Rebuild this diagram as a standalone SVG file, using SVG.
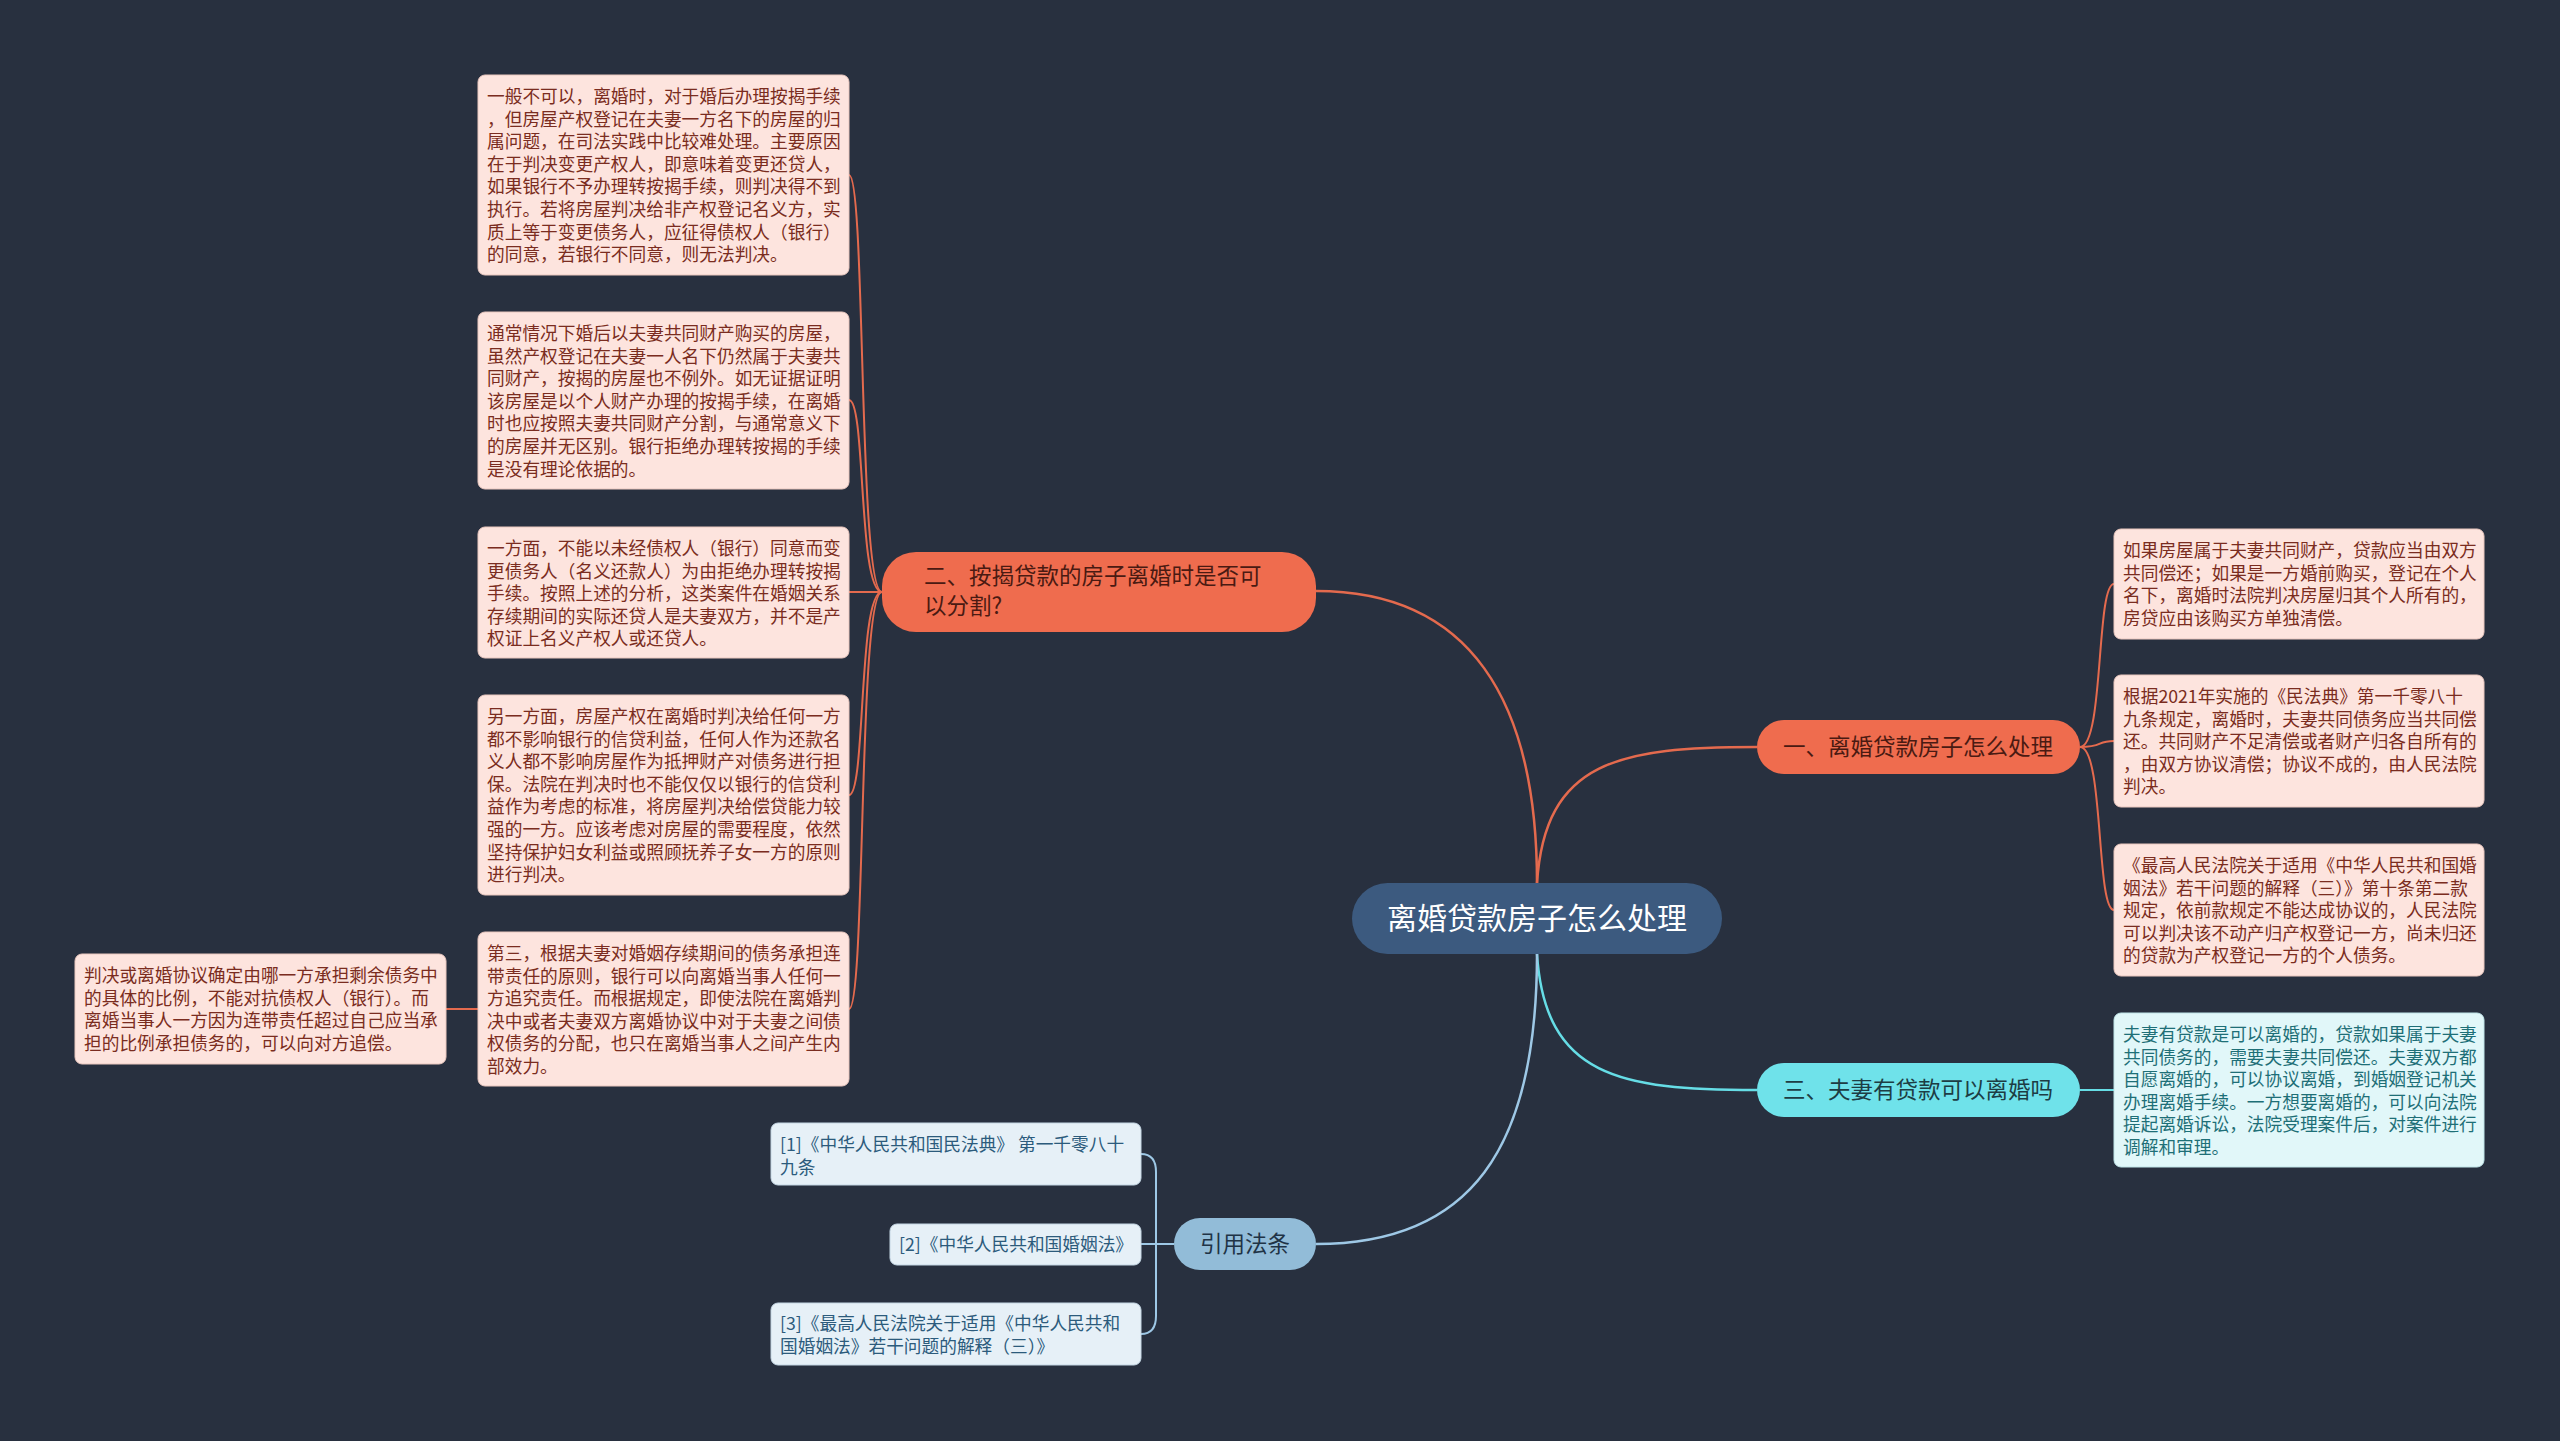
<svg xmlns="http://www.w3.org/2000/svg" width="2560" height="1441" viewBox="0 0 2560 1441">
<style>
text{font-family:"Noto Sans CJK SC","Noto Sans",sans-serif}
.bx{fill:#fde4de;stroke:#e9c7bf;stroke-width:1}
.bt{font-size:17.7px;fill:#7a2c20}
.cx{fill:#e1f7f9;stroke:#bfe4e8;stroke-width:1}
.ct{font-size:17.7px;fill:#1e6f77}
.rx{fill:#e6f0f7;stroke:#c4d6e4;stroke-width:1}
.rt{font-size:17.7px;fill:#2c5b7c}
.co{fill:none;stroke:#e46a4e;stroke-width:2.5}
.cy{fill:none;stroke:#66dde6;stroke-width:2.5}
.lb{fill:none;stroke:#9ec8e6;stroke-width:2.5}
.sub{stroke-width:2}
</style>
<rect width="2560" height="1441" fill="#28303f"/>
<g id="connectors">
<path class="co" d="M1537 883 C1537 700 1470 591 1316 591"/>
<path class="co" d="M1537 883 C1545 760 1620 747 1757 747"/>
<path class="cy" d="M1537 954 C1545 1077 1620 1090 1757 1090"/>
<path class="lb" d="M1537 954 C1537 1150 1470 1244 1316 1244"/>
<path class="co sub" d="M882 592 C858 592 866 175 849 175"/>
<path class="co sub" d="M882 592 C858 592 866 400 849 400"/>
<path class="co sub" d="M882 592 L849 592"/>
<path class="co sub" d="M882 592 C858 592 866 795 849 795"/>
<path class="co sub" d="M882 592 C858 592 866 1009 849 1009"/>
<path class="co sub" d="M478 1009 L446 1009"/>
<path class="co sub" d="M2080 747 C2104 747 2096 584 2114 584"/>
<path class="co sub" d="M2080 747 C2104 747 2096 741 2114 741"/>
<path class="co sub" d="M2080 747 C2104 747 2096 910 2114 910"/>
<path class="cy sub" d="M2080 1090 L2114 1090"/>
<path class="lb sub" d="M1141 1154 Q1156 1154 1156 1172 L1156 1316 Q1156 1334 1141 1334"/>
<path class="lb sub" d="M1141 1244 L1174 1244"/>
</g>
<g id="center">
<rect x="1352" y="883" width="370" height="71" rx="35.5" fill="#3c5a7f"/>
<text x="1537" y="929" font-size="30" fill="#ffffff" text-anchor="middle">离婚贷款房子怎么处理</text>
</g>
<g id="branch2">
<rect x="882" y="552" width="434" height="80" rx="34" fill="#ef6c4e"/>
<text x="924" y="584" font-size="22.5" fill="#4a1a12">二、按揭贷款的房子离婚时是否可</text>
<text x="924" y="614" font-size="22.5" fill="#4a1a12">以分割?</text>
</g>
<g id="branch1">
<rect x="1757" y="720" width="323" height="54" rx="27" fill="#ef6c4e"/>
<text x="1918" y="755" font-size="22.5" fill="#4a1a12" text-anchor="middle">一、离婚贷款房子怎么处理</text>
</g>
<g id="branch3">
<rect x="1757" y="1063" width="323" height="54" rx="27" fill="#6fe2ea"/>
<text x="1918" y="1098" font-size="22.5" fill="#1d3d44" text-anchor="middle">三、夫妻有贷款可以离婚吗</text>
</g>
<g id="branch4">
<rect x="1174" y="1218" width="142" height="52" rx="26" fill="#92bcd8"/>
<text x="1245" y="1252" font-size="22.5" fill="#1f3346" text-anchor="middle">引用法条</text>
</g>
<g id="box1">
<rect class="bx" x="478" y="75" width="371" height="200" rx="7"/>
<text class="bt" x="487" y="103">一般不可以，离婚时，对于婚后办理按揭手续</text>
<text class="bt" x="487" y="125.6">，但房屋产权登记在夫妻一方名下的房屋的归</text>
<text class="bt" x="487" y="148.2">属问题，在司法实践中比较难处理。主要原因</text>
<text class="bt" x="487" y="170.8">在于判决变更产权人，即意味着变更还贷人，</text>
<text class="bt" x="487" y="193.4">如果银行不予办理转按揭手续，则判决得不到</text>
<text class="bt" x="487" y="216">执行。若将房屋判决给非产权登记名义方，实</text>
<text class="bt" x="487" y="238.6">质上等于变更债务人，应征得债权人（银行）</text>
<text class="bt" x="487" y="261.2">的同意，若银行不同意，则无法判决。</text>
</g>
<g id="box2">
<rect class="bx" x="478" y="312" width="371" height="177" rx="7"/>
<text class="bt" x="487" y="340">通常情况下婚后以夫妻共同财产购买的房屋，</text>
<text class="bt" x="487" y="362.6">虽然产权登记在夫妻一人名下仍然属于夫妻共</text>
<text class="bt" x="487" y="385.2">同财产，按揭的房屋也不例外。如无证据证明</text>
<text class="bt" x="487" y="407.8">该房屋是以个人财产办理的按揭手续，在离婚</text>
<text class="bt" x="487" y="430.4">时也应按照夫妻共同财产分割，与通常意义下</text>
<text class="bt" x="487" y="453">的房屋并无区别。银行拒绝办理转按揭的手续</text>
<text class="bt" x="487" y="475.6">是没有理论依据的。</text>
</g>
<g id="box3">
<rect class="bx" x="478" y="527" width="371" height="131" rx="7"/>
<text class="bt" x="487" y="555">一方面，不能以未经债权人（银行）同意而变</text>
<text class="bt" x="487" y="577.6">更债务人（名义还款人）为由拒绝办理转按揭</text>
<text class="bt" x="487" y="600.2">手续。按照上述的分析，这类案件在婚姻关系</text>
<text class="bt" x="487" y="622.8">存续期间的实际还贷人是夫妻双方，并不是产</text>
<text class="bt" x="487" y="645.4">权证上名义产权人或还贷人。</text>
</g>
<g id="box4">
<rect class="bx" x="478" y="695" width="371" height="200" rx="7"/>
<text class="bt" x="487" y="723">另一方面，房屋产权在离婚时判决给任何一方</text>
<text class="bt" x="487" y="745.6">都不影响银行的信贷利益，任何人作为还款名</text>
<text class="bt" x="487" y="768.2">义人都不影响房屋作为抵押财产对债务进行担</text>
<text class="bt" x="487" y="790.8">保。法院在判决时也不能仅仅以银行的信贷利</text>
<text class="bt" x="487" y="813.4">益作为考虑的标准，将房屋判决给偿贷能力较</text>
<text class="bt" x="487" y="836">强的一方。应该考虑对房屋的需要程度，依然</text>
<text class="bt" x="487" y="858.6">坚持保护妇女利益或照顾抚养子女一方的原则</text>
<text class="bt" x="487" y="881.2">进行判决。</text>
</g>
<g id="box5">
<rect class="bx" x="478" y="932" width="371" height="154" rx="7"/>
<text class="bt" x="487" y="960">第三，根据夫妻对婚姻存续期间的债务承担连</text>
<text class="bt" x="487" y="982.6">带责任的原则，银行可以向离婚当事人任何一</text>
<text class="bt" x="487" y="1005.2">方追究责任。而根据规定，即使法院在离婚判</text>
<text class="bt" x="487" y="1027.8">决中或者夫妻双方离婚协议中对于夫妻之间债</text>
<text class="bt" x="487" y="1050.4">权债务的分配，也只在离婚当事人之间产生内</text>
<text class="bt" x="487" y="1073">部效力。</text>
</g>
<g id="box6">
<rect class="bx" x="75" y="954" width="371" height="110" rx="7"/>
<text class="bt" x="84" y="982">判决或离婚协议确定由哪一方承担剩余债务中</text>
<text class="bt" x="84" y="1004.6">的具体的比例，不能对抗债权人（银行）。而</text>
<text class="bt" x="84" y="1027.2">离婚当事人一方因为连带责任超过自己应当承</text>
<text class="bt" x="84" y="1049.8">担的比例承担债务的，可以向对方追偿。</text>
</g>
<g id="box7">
<rect class="bx" x="2114" y="529" width="370" height="110" rx="7"/>
<text class="bt" x="2123" y="557">如果房屋属于夫妻共同财产，贷款应当由双方</text>
<text class="bt" x="2123" y="579.6">共同偿还；如果是一方婚前购买，登记在个人</text>
<text class="bt" x="2123" y="602.2">名下，离婚时法院判决房屋归其个人所有的，</text>
<text class="bt" x="2123" y="624.8">房贷应由该购买方单独清偿。</text>
</g>
<g id="box8">
<rect class="bx" x="2114" y="675" width="370" height="132" rx="7"/>
<text class="bt" x="2123" y="703">根据2021年实施的《民法典》第一千零八十</text>
<text class="bt" x="2123" y="725.6">九条规定，离婚时，夫妻共同债务应当共同偿</text>
<text class="bt" x="2123" y="748.2">还。共同财产不足清偿或者财产归各自所有的</text>
<text class="bt" x="2123" y="770.8">，由双方协议清偿；协议不成的，由人民法院</text>
<text class="bt" x="2123" y="793.4">判决。</text>
</g>
<g id="box9">
<rect class="bx" x="2114" y="844" width="370" height="132" rx="7"/>
<text class="bt" x="2123" y="872">《最高人民法院关于适用《中华人民共和国婚</text>
<text class="bt" x="2123" y="894.6">姻法》若干问题的解释（三）》第十条第二款</text>
<text class="bt" x="2123" y="917.2">规定，依前款规定不能达成协议的，人民法院</text>
<text class="bt" x="2123" y="939.8">可以判决该不动产归产权登记一方，尚未归还</text>
<text class="bt" x="2123" y="962.4">的贷款为产权登记一方的个人债务。</text>
</g>
<g id="box10">
<rect class="cx" x="2114" y="1013" width="370" height="154" rx="7"/>
<text class="ct" x="2123" y="1041">夫妻有贷款是可以离婚的，贷款如果属于夫妻</text>
<text class="ct" x="2123" y="1063.6">共同债务的，需要夫妻共同偿还。夫妻双方都</text>
<text class="ct" x="2123" y="1086.2">自愿离婚的，可以协议离婚，到婚姻登记机关</text>
<text class="ct" x="2123" y="1108.8">办理离婚手续。一方想要离婚的，可以向法院</text>
<text class="ct" x="2123" y="1131.4">提起离婚诉讼，法院受理案件后，对案件进行</text>
<text class="ct" x="2123" y="1154">调解和审理。</text>
</g>
<g id="cite1">
<rect class="rx" x="771" y="1123" width="370" height="62" rx="7"/>
<text class="rt" x="780" y="1151">[1]《中华人民共和国民法典》 第一千零八十</text>
<text class="rt" x="780" y="1174">九条</text>
</g>
<g id="cite2">
<rect class="rx" x="890" y="1224" width="251" height="41" rx="7"/>
<text class="rt" x="899" y="1251">[2]《中华人民共和国婚姻法》</text>
</g>
<g id="cite3">
<rect class="rx" x="771" y="1303" width="370" height="62" rx="7"/>
<text class="rt" x="780" y="1330">[3]《最高人民法院关于适用《中华人民共和</text>
<text class="rt" x="780" y="1353">国婚姻法》若干问题的解释（三）》</text>
</g>
</svg>
